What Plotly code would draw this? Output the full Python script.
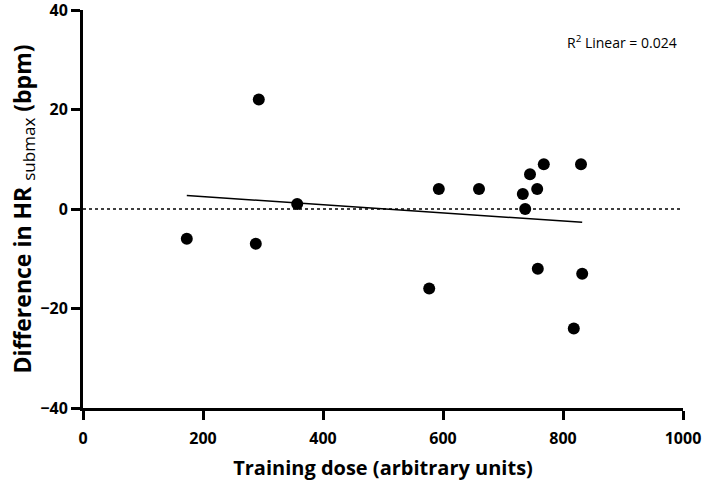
import numpy as np
import plotly.graph_objects as go

training_dose = [173, 293, 288, 357, 577, 593, 660, 733, 737, 745, 757, 758, 768, 818, 830, 832]
hr_diff = [-6, 22, -7, 1, -16, 4, 4, 3, 0, 7, 4, -12, 9, -24, 9, -13]
x_ticks = [0, 200, 400, 600, 800, 1000]
y_ticks = [-40, -20, 0, 20, 40]

x = np.array(training_dose, dtype=float)
y = np.array(hr_diff, dtype=float)
slope, intercept = np.polyfit(x, y, 1)
r2 = np.corrcoef(x, y)[0, 1] ** 2
fit_x = [x.min(), x.max()]
fit_y = [slope * v + intercept for v in fit_x]

fig = go.Figure()
fig.add_trace(go.Scatter(x=[0, 1000], y=[0, 0], mode="lines",
                         line=dict(color="black", width=1.3, dash="3px,3px"),
                         hoverinfo="skip", showlegend=False))
fig.add_trace(go.Scatter(x=fit_x, y=fit_y, mode="lines",
                         line=dict(color="black", width=1.5), showlegend=False))
fig.add_trace(go.Scatter(x=training_dose, y=hr_diff, mode="markers",
                         marker=dict(color="black", size=12), showlegend=False))

font_family = "Open Sans, DejaVu Sans, sans-serif"
fig.update_layout(
    width=708, height=487,
    margin=dict(l=83, r=25, t=10, b=79),
    plot_bgcolor="white", paper_bgcolor="white",
    font=dict(family=font_family, color="black"),
    annotations=[dict(x=0.993, y=0.92, xref="paper", yref="paper", xanchor="right",
                      yanchor="middle", showarrow=False,
                      text=f"R<sup>2</sup> Linear = {r2:.3f}",
                      font=dict(size=14, color="black", family=font_family))],
)
fig.update_xaxes(range=[0, 1000], tickvals=x_ticks, showline=True, linewidth=3,
                 linecolor="black", ticks="outside", ticklen=9, tickwidth=3,
                 tickcolor="black", showgrid=False, zeroline=False,
                 automargin=False, ticklabeloverflow="allow", ticklabelstandoff=5,
                 tickfont=dict(size=16, family="Open Sans", weight="bold"),
                 title=dict(text="<b>Training dose (arbitrary units)</b>",
                            font=dict(size=20), standoff=13))
fig.update_yaxes(range=[-40, 40], tickvals=y_ticks, showline=True, linewidth=3,
                 linecolor="black", ticks="outside", ticklen=9, tickwidth=3,
                 tickcolor="black", showgrid=False, zeroline=False,
                 automargin=False, ticklabeloverflow="allow",
                 tickfont=dict(size=16, family="Open Sans", weight="bold"),
                 title=dict(text="<b>Difference in HR</b> <sub><span style=\"font-size:17px\">submax</span></sub> <b>(bpm)</b>",
                            font=dict(size=23), standoff=2))

fig.write_html("out.html", config={"displayModeBar": False},
               post_script="document.body.style.margin='0px';")
